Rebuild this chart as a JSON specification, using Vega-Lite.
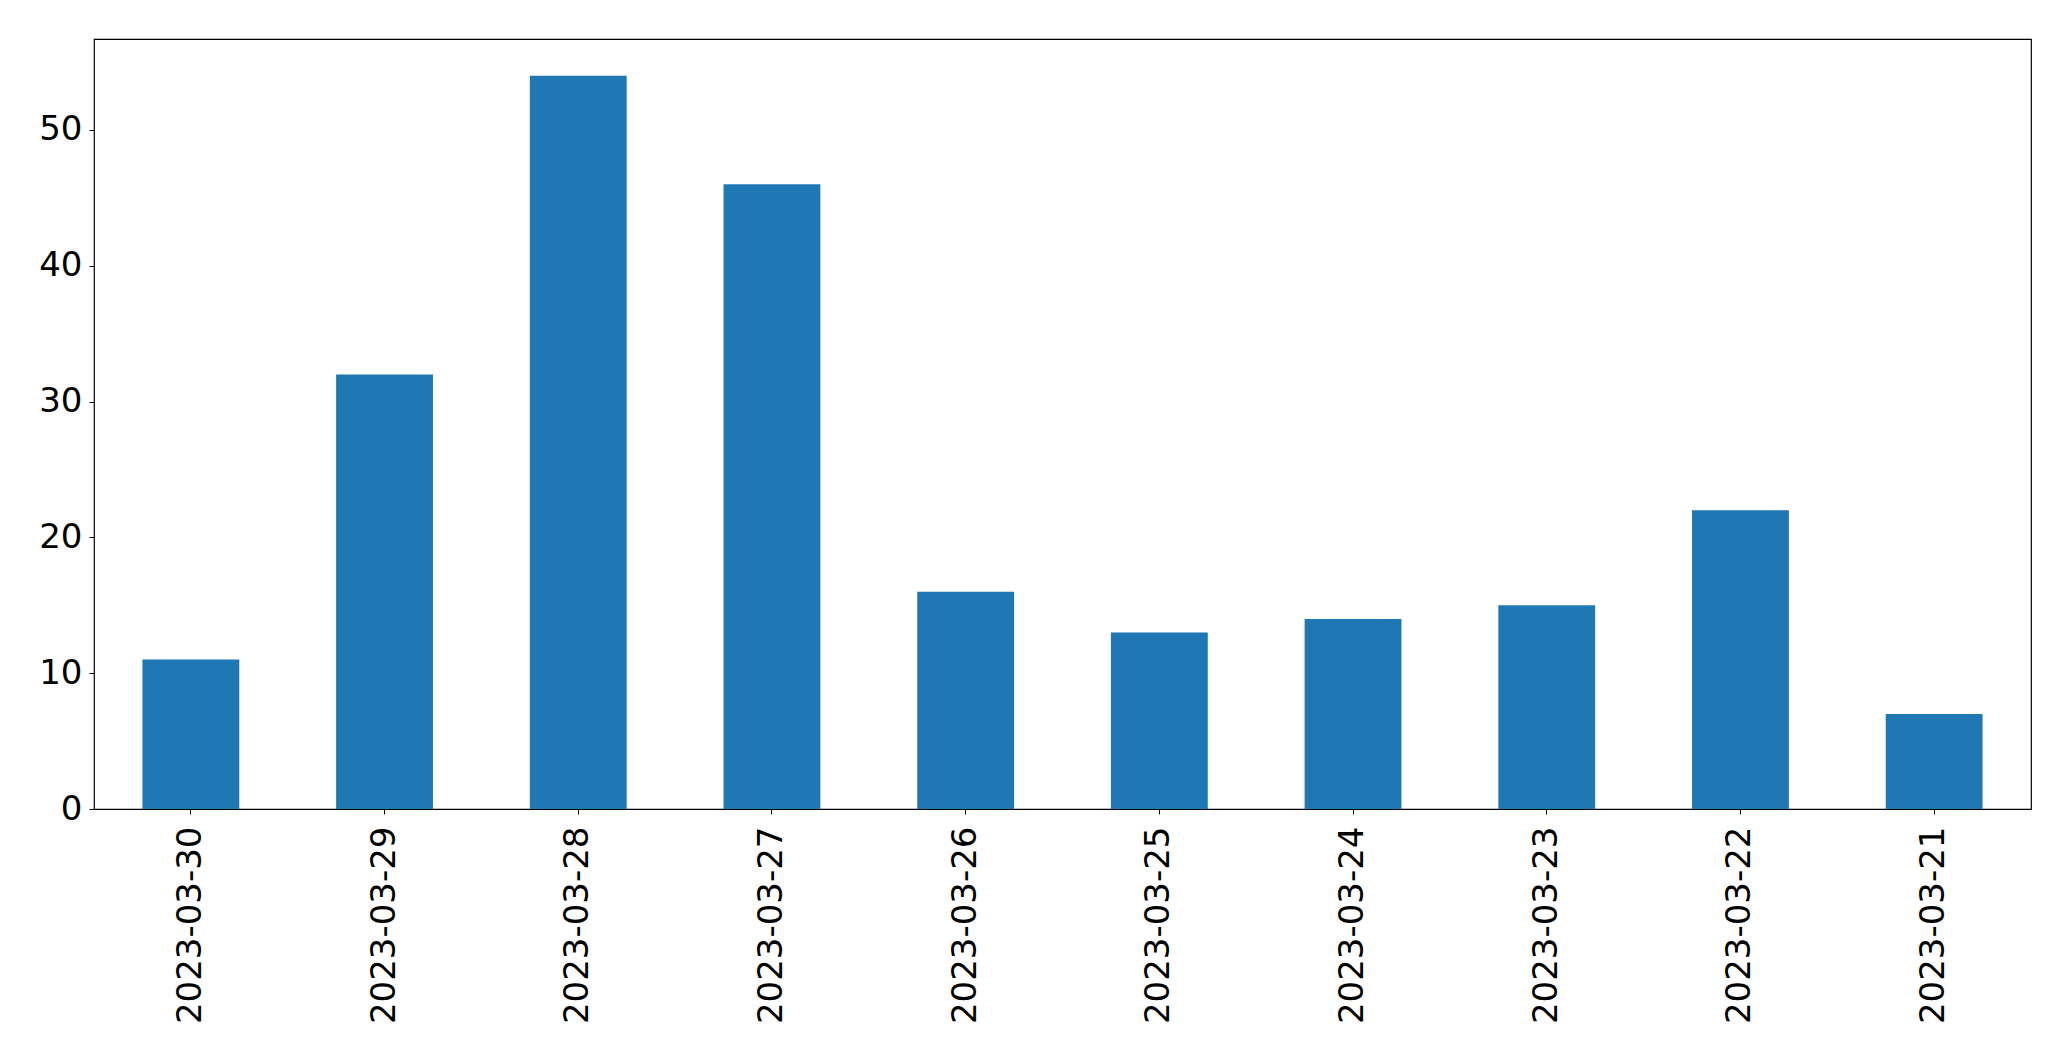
{
  "$schema": "https://vega.github.io/schema/vega-lite/v6.json",
  "autosize": {"type": "none"},
  "padding": {"left": 94, "top": 39, "right": 40, "bottom": 252},
  "width": 1937,
  "height": 770,
  "background": "white",
  "data": {
    "values": [
      {"date": "2023-03-30", "count": 11},
      {"date": "2023-03-29", "count": 32},
      {"date": "2023-03-28", "count": 54},
      {"date": "2023-03-27", "count": 46},
      {"date": "2023-03-26", "count": 16},
      {"date": "2023-03-25", "count": 13},
      {"date": "2023-03-24", "count": 14},
      {"date": "2023-03-23", "count": 15},
      {"date": "2023-03-22", "count": 22},
      {"date": "2023-03-21", "count": 7}
    ]
  },
  "mark": {"type": "bar", "color": "#1f77b4"},
  "encoding": {
    "x": {
      "field": "date",
      "type": "nominal",
      "sort": null,
      "scale": {"paddingInner": 0.5, "paddingOuter": 0.25},
      "axis": {
        "title": null,
        "labelAngle": -90,
        "labelAlign": "right",
        "labelBaseline": "middle",
        "labelFont": "DejaVu Sans",
        "labelFontSize": 34,
        "labelColor": "black",
        "labelPadding": 12,
        "labelLimit": 0,
        "tickSize": 5,
        "tickColor": "black",
        "tickWidth": 1,
        "domain": false,
        "grid": false
      }
    },
    "y": {
      "field": "count",
      "type": "quantitative",
      "scale": {"domain": [0, 56.7], "nice": false, "zero": true},
      "axis": {
        "title": null,
        "values": [0, 10, 20, 30, 40, 50],
        "labelFont": "DejaVu Sans",
        "labelFontSize": 34,
        "labelColor": "black",
        "labelPadding": 7,
        "tickSize": 5,
        "tickColor": "black",
        "tickWidth": 1,
        "domain": false,
        "grid": false
      }
    }
  },
  "config": {
    "view": {"stroke": "#000000", "strokeWidth": 1.2}
  }
}
